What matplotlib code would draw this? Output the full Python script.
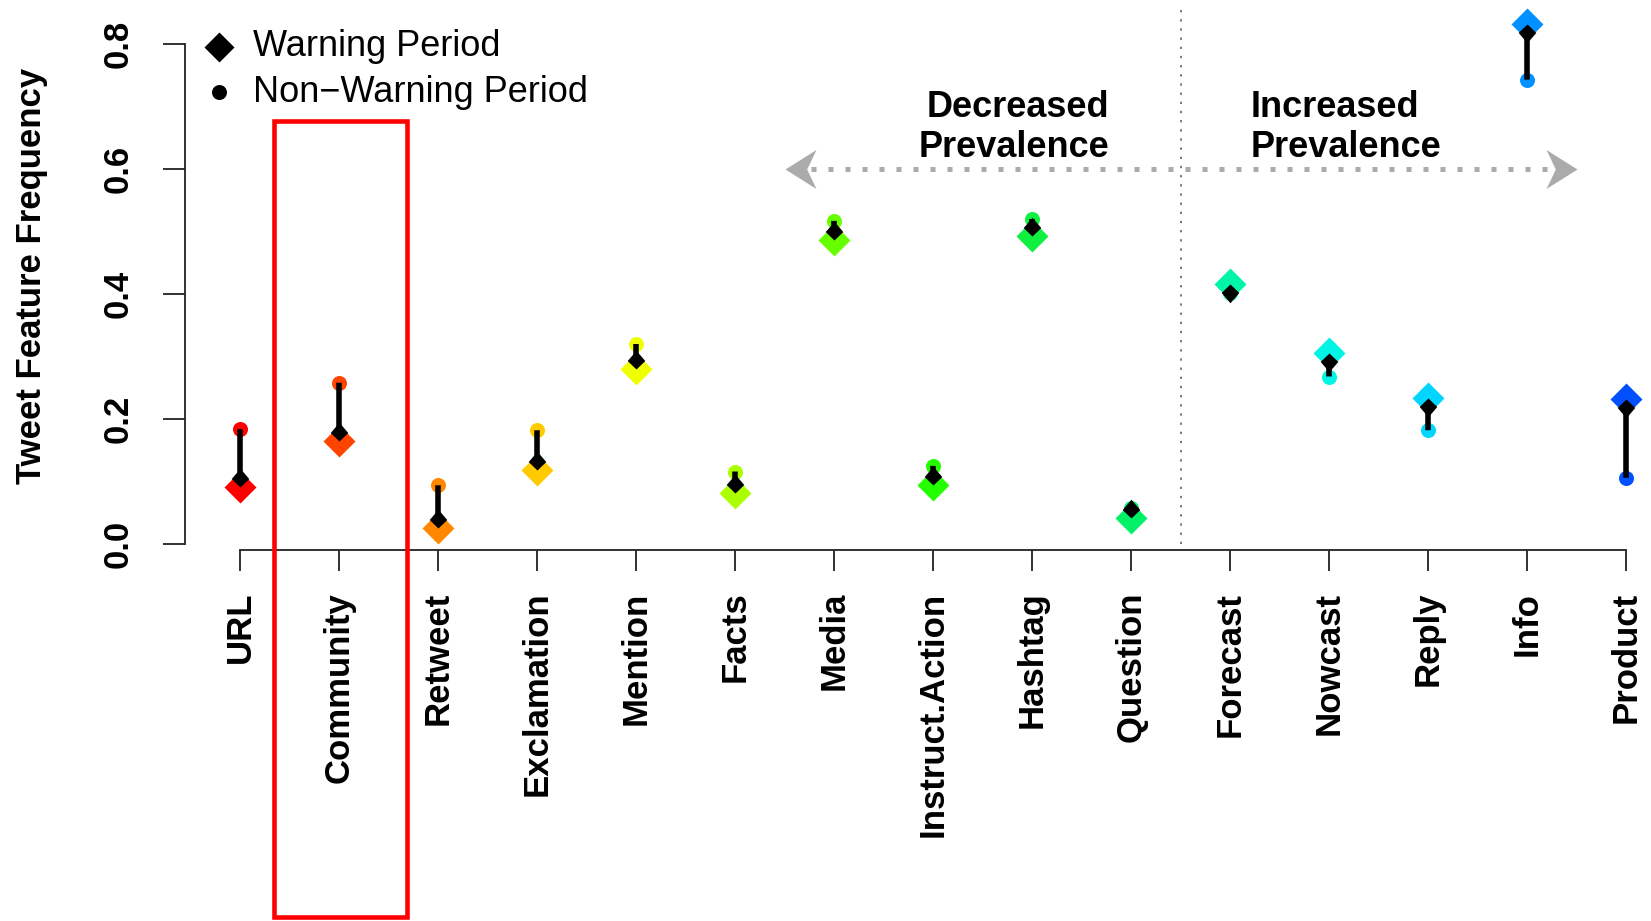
import matplotlib
matplotlib.use("Agg")
import matplotlib.pyplot as plt
from matplotlib.path import Path
from matplotlib.patches import Rectangle, FancyArrowPatch
from matplotlib.lines import Line2D

# ---- data -------------------------------------------------------------
features = ["URL", "Community", "Retweet", "Exclamation", "Mention", "Facts",
            "Media", "Instruct.Action", "Hashtag", "Question", "Forecast",
            "Nowcast", "Reply", "Info", "Product"]
warning = [0.091, 0.165, 0.025, 0.118, 0.280, 0.081, 0.487, 0.094, 0.493,
           0.042, 0.416, 0.305, 0.234, 0.832, 0.232]
non_warning = [0.184, 0.258, 0.094, 0.182, 0.320, 0.116, 0.517, 0.125, 0.520,
               0.057, 0.401, 0.268, 0.182, 0.743, 0.106]
y_ticks = [0.0, 0.2, 0.4, 0.6, 0.8]
y_tick_labels = ["0.0", "0.2", "0.4", "0.6", "0.8"]

# rainbow palette, red -> blue
colors = ["#FF0000", "#FF4400", "#FF8800", "#FFCB00", "#EFFF00", "#ABFF00",
          "#67FF00", "#24FF00", "#10F040", "#00F068", "#00F5A8", "#00F5E5",
          "#00D5FF", "#0090FF", "#0050FF"]

plt.rcParams["font.family"] = ["Liberation Sans", "DejaVu Sans"]

W, H = 1651, 921
fig = plt.figure(figsize=(W / 100, H / 100), dpi=100)
ax = fig.add_axes([185 / W, 1 - 550 / H, (W - 185) / W, 550 / H])
ax.set_xlim(-55 / 99, (W - 240) / 99)
ax.set_ylim(-0.0096, 0.8 + 44 / 625)

x = list(range(len(features)))

# colored markers
for i in x:
    ax.plot(i, warning[i], marker="D", ms=16.8, color=colors[i], mec="none",
            clip_on=False, zorder=3)
    ax.plot(i, non_warning[i], marker="o", ms=10.8, color=colors[i], mec="none",
            clip_on=False, zorder=3)

# arrowhead shapes with the tip at the marker origin
codes = [Path.MOVETO, Path.LINETO, Path.LINETO, Path.LINETO, Path.CLOSEPOLY]
head_down = Path([(0, 0), (0.47, 0.45), (0, 1), (-0.47, 0.45), (0, 0)], codes)
head_up = Path([(0, 0), (0.47, -0.45), (0, -1), (-0.47, -0.45), (0, 0)], codes)

# change arrows: non-warning -> warning
for i in x:
    shaft = FancyArrowPatch((i, non_warning[i]), (i, warning[i]),
                            arrowstyle="-", mutation_scale=1, lw=4.0,
                            color="black", shrinkA=0, shrinkB=6,
                            capstyle="butt", zorder=4, clip_on=False)
    ax.add_patch(shaft)
    head = head_up if warning[i] > non_warning[i] else head_down
    ax.plot(i, warning[i], marker=head, ms=27, color="black", mec="none",
            zorder=5, clip_on=False)

# divider between decreased / increased features
ax.plot([9.5, 9.5], [0.0, 0.862], color="#555555", lw=1.1,
        linestyle=(0, (1.5, 4.5)), zorder=1, clip_on=False)

# dotted double arrow
arrow_y, arrow_left, arrow_right = 0.6, 5.5, 13.5
ax.plot([arrow_left + 0.1, arrow_right - 0.1], [arrow_y, arrow_y], color="#ABABAB",
        lw=3.6, linestyle=(0, (1, 2.4)), dash_capstyle="butt", zorder=2)
head_r = Path([(0, 0), (-1, 0.63), (-0.7, 0), (-1, -0.63), (0, 0)], codes)
head_l = Path([(0, 0), (1, 0.63), (0.7, 0), (1, -0.63), (0, 0)], codes)
ax.plot(arrow_right, arrow_y, marker=head_r, ms=44.6, color="#ABABAB",
        mec="none", zorder=2, clip_on=False)
ax.plot(arrow_left, arrow_y, marker=head_l, ms=44.6, color="#ABABAB",
        mec="none", zorder=2, clip_on=False)

ax.text(8.78, 0.667, "Decreased\nPrevalence", ha="right", va="center",
        fontsize=26, fontweight="bold", linespacing=1.18)
ax.text(10.21, 0.667, "Increased\nPrevalence", ha="left", va="center",
        fontsize=26, fontweight="bold", linespacing=1.18)

# axes styling
for s in ["top", "right"]:
    ax.spines[s].set_visible(False)
ax.spines["left"].set_bounds(0, 0.8)
ax.spines["bottom"].set_bounds(0, len(features) - 1)
for s in ["left", "bottom"]:
    ax.spines[s].set_linewidth(1.3)
    ax.spines[s].set_color("#222222")

ax.set_xticks(x)
ax.set_xticklabels(features, rotation=90, fontsize=25, fontweight="bold")
ax.set_yticks(y_ticks)
ax.set_yticklabels(y_tick_labels, rotation=90, fontsize=25, fontweight="bold",
                   va="center")
ax.tick_params(axis="x", length=15, width=1.3, pad=15, color="#222222")
ax.tick_params(axis="y", length=16, width=1.3, pad=20, color="#222222")
ax.set_facecolor("none")

fig.text(32 / W, 1 - 276 / H, "Tweet Feature Frequency", rotation=90,
         ha="center", va="center", fontsize=25, fontweight="bold")

# legend
fig.add_artist(Line2D([219 / W], [1 - 47 / H], marker="D", ms=15.3, color="black",
                      mec="none", transform=fig.transFigure))
fig.add_artist(Line2D([219 / W], [1 - 92 / H], marker="o", ms=10.8, color="black",
                      mec="none", transform=fig.transFigure))
fig.text(253 / W, 1 - 47 / H, "Warning Period", ha="left", va="center", fontsize=26)
fig.text(253 / W, 1 - 92 / H, "Non\u2212Warning Period", ha="left", va="center",
         fontsize=26)

# highlight box around the Community column
fig.add_artist(Rectangle((274 / W, 1 - 917 / H), 133 / W, 796 / H, fill=False,
                         edgecolor="#FF0000", lw=3.3, transform=fig.transFigure))

fig.savefig("out.png", dpi=100)
